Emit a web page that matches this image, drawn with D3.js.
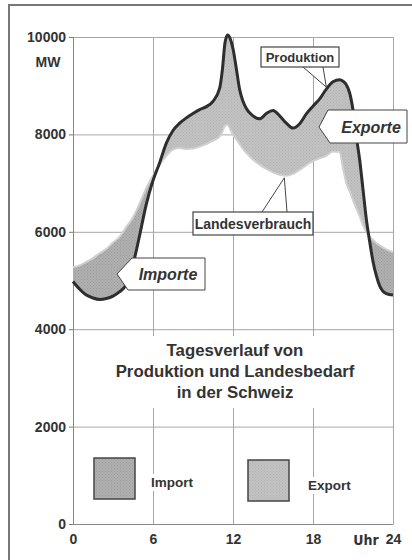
<!DOCTYPE html>
<html><head><meta charset="utf-8">
<script src="https://cdn.jsdelivr.net/npm/d3@7"></script>
<style>
html,body{margin:0;padding:0;background:#fff;}
svg{display:block;font-family:"Liberation Sans",Arial,Helvetica,sans-serif;}
</style></head><body>
<svg id="chart" width="412" height="560"></svg>
<script>
// Tagesverlauf (Stunde 0–24) in MW
const hours = [0,0.5,1,1.5,2,2.5,3,3.5,4,4.5,5,5.5,6,6.5,7,7.5,8,8.5,9,9.5,10,10.5,11,11.2,11.4,11.6,11.8,12,12.25,12.5,12.75,13,13.5,14,14.5,15,15.5,16,16.5,17,17.5,18,18.5,19,19.5,20,20.25,20.5,20.75,21,21.25,21.5,21.75,22,22.25,22.5,22.75,23,23.5,24];
const produktion = [4980,4820,4700,4640,4610,4630,4680,4770,4920,5330,5930,6570,7050,7420,7820,8080,8230,8340,8430,8510,8570,8680,8950,9320,9880,10040,9960,9760,9350,8920,8680,8530,8380,8320,8430,8490,8380,8230,8130,8220,8420,8580,8730,8930,9080,9120,9090,9020,8850,8500,7950,7480,6870,6260,5800,5390,5100,4890,4730,4700];
const landesverbrauch = [5270,5310,5380,5460,5560,5650,5780,5900,6100,6300,6580,6900,7150,7380,7560,7690,7720,7700,7710,7750,7800,7870,7960,8050,8180,8200,8100,8000,7900,7800,7700,7620,7480,7380,7290,7220,7170,7150,7190,7270,7370,7450,7510,7560,7650,7640,7300,7000,6830,6650,6480,6320,6130,6000,5900,5830,5770,5720,5640,5580];

const yTicks = [0,2000,4000,6000,8000,10000];
const xTicks = [0,6,12,18,24];
const xTickLabels = ["0","6","12","18","24"];
const titleLines = ["Tagesverlauf von","Produktion und Landesbedarf","in der Schweiz"];
const legendLabels = ["Import","Export"];

const data = hours.map((h,i)=>({h, p:produktion[i], c:landesverbrauch[i]}));

const svg = d3.select("#chart");
const x = d3.scaleLinear().domain([0,24]).range([73,393]);
const y = d3.scaleLinear().domain([0,10000]).range([524,37]);

const ink = "#333";
const gridCol = "#aaa6a6";

// Outer frame
svg.append("path").attr("d","M9,562 L9,5 L414,5").attr("fill","none")
  .attr("stroke","#777").attr("stroke-width",2);

// Stipple patterns for the two fills
const defs = svg.append("defs");
function stipple(id, base, dot){
  const p = defs.append("pattern").attr("id",id).attr("width",3).attr("height",3)
    .attr("patternUnits","userSpaceOnUse");
  p.append("rect").attr("width",3).attr("height",3).attr("fill",base);
  p.append("rect").attr("x",0).attr("y",0).attr("width",1).attr("height",1).attr("fill",dot);
  p.append("rect").attr("x",1.5).attr("y",1.5).attr("width",1).attr("height",1).attr("fill",dot);
}
stipple("patImport","#b0b0b0","#9c9c9c");
stipple("patExport","#c2c2c2","#b2b2b2");

// Grid
const gy = svg.append("g").attr("transform",`translate(${x(0)},0)`)
  .call(d3.axisLeft(y).tickValues(yTicks).tickSize(-(x(24)-x(0))).tickFormat(""));
gy.select(".domain").remove();
gy.selectAll(".tick line").attr("stroke",gridCol).attr("stroke-width",1);
const gx = svg.append("g").attr("transform",`translate(0,${y(0)})`)
  .call(d3.axisBottom(x).tickValues(xTicks).tickSize(-(y(0)-y(10000))).tickFormat(""));
gx.select(".domain").remove();
gx.selectAll(".tick line").attr("stroke",gridCol).attr("stroke-width",1);

// Y axis labels with short ticks
const ya = svg.append("g").attr("transform",`translate(${x(0)},0)`)
  .call(d3.axisLeft(y).tickValues(yTicks).tickSize(4).tickPadding(3).tickFormat(d3.format("d")));
ya.select(".domain").attr("stroke","#888");
ya.selectAll(".tick line").attr("stroke","#777");
ya.selectAll("text").attr("fill",ink).attr("font-size",14).attr("font-weight","bold")
  .attr("font-family","'Liberation Sans',Arial,sans-serif");
svg.append("text").attr("x",48).attr("y",y(10000)+30).attr("text-anchor","middle")
  .attr("fill",ink).attr("font-size",14).attr("font-weight","bold").text("MW");

// X axis labels
const xa = svg.append("g").attr("transform",`translate(0,${y(0)})`)
  .call(d3.axisBottom(x).tickValues(xTicks).tickSize(0).tickPadding(10)
    .tickFormat((d,i)=>xTickLabels[i]));
xa.select(".domain").attr("stroke","#888");
xa.selectAll("text").attr("fill",ink).attr("font-size",14).attr("font-weight","bold")
  .attr("font-family","'Liberation Sans',Arial,sans-serif");
svg.append("text").attr("x",x(24)-27).attr("y",y(0)+21).attr("text-anchor","middle")
  .attr("fill",ink).attr("font-size",14).attr("font-weight","bold")
  .attr("font-family","'Liberation Sans Narrow','DejaVu Sans Condensed',sans-serif").text("Uhr");

// Areas between production and consumption
const curve = d3.curveMonotoneX;
const between = d3.area().x(d=>x(d.h)).y0(d=>y(d.c)).y1(d=>y(d.p)).curve(curve);
const aboveC = d3.area().x(d=>x(d.h)).y0(d=>y(d.c)).y1(()=>y(10000)-20).curve(curve);
const belowC = d3.area().x(d=>x(d.h)).y0(d=>y(d.c)).y1(()=>y(0)).curve(curve);
defs.append("clipPath").attr("id","clipExport").append("path").attr("d",aboveC(data));
defs.append("clipPath").attr("id","clipImport").append("path").attr("d",belowC(data));

svg.append("path").attr("d",between(data)).attr("fill","url(#patExport)")
  .attr("clip-path","url(#clipExport)");
svg.append("path").attr("d",between(data)).attr("fill","url(#patImport)")
  .attr("clip-path","url(#clipImport)");

const lineC = d3.line().x(d=>x(d.h)).y(d=>y(d.c)).curve(curve);
const lineP = d3.line().x(d=>x(d.h)).y(d=>y(d.p)).curve(curve);
svg.append("path").attr("d",lineC(data)).attr("fill","none")
  .attr("stroke","#d0d0d0").attr("stroke-width",2);
svg.append("path").attr("d",lineP(data)).attr("fill","none")
  .attr("stroke","#2e2e2e").attr("stroke-width",3).attr("stroke-linejoin","round");

// Callouts
const boxStroke = "#444";
function findAt(h){ return data.find(d=>d.h===h); }

// Produktion
{
  const t = findAt(19);
  const tx = x(t.h), ty = y(t.p)-2;
  svg.append("path").attr("d",`M303,67 L${tx},${ty} L323,67`).attr("fill","#fff")
    .attr("stroke",boxStroke).attr("stroke-width",1);
  svg.append("rect").attr("x",261).attr("y",47).attr("width",78).attr("height",20)
    .attr("fill","#fff").attr("stroke",boxStroke).attr("stroke-width",1.2);
  svg.append("text").attr("x",300).attr("y",62).attr("text-anchor","middle")
    .attr("fill",ink).attr("font-size",13).attr("font-weight","bold").text("Produktion");
}
// Landesverbrauch
{
  const t = findAt(16);
  const tx = x(t.h)-2, ty = y(t.c)+2;
  svg.append("path").attr("d",`M262,212 L${tx},${ty} L287,212`).attr("fill","#fff")
    .attr("stroke",boxStroke).attr("stroke-width",1);
  svg.append("rect").attr("x",193).attr("y",212).attr("width",120).attr("height",23)
    .attr("fill","#fff").attr("stroke",boxStroke).attr("stroke-width",1.2);
  svg.append("text").attr("x",253).attr("y",229).attr("text-anchor","middle")
    .attr("fill",ink).attr("font-size",14).attr("font-weight","bold").text("Landesverbrauch");
}
// Exporte
svg.append("path").attr("d","M328,110 L407,110 L407,143 L330,143 L319,127 Z")
  .attr("fill","#fff").attr("stroke",boxStroke).attr("stroke-width",1);
svg.append("text").attr("x",371).attr("y",133).attr("text-anchor","middle")
  .attr("fill",ink).attr("font-size",16).attr("font-weight","bold").attr("font-style","italic").text("Exporte");
// Importe
svg.append("path").attr("d","M132,258 L205,258 L205,290 L128,290 L117,274 Z")
  .attr("fill","#fff").attr("stroke",boxStroke).attr("stroke-width",1);
svg.append("text").attr("x",168).attr("y",280).attr("text-anchor","middle")
  .attr("fill",ink).attr("font-size",16).attr("font-weight","bold").attr("font-style","italic").text("Importe");

// Title block
svg.append("rect").attr("x",106).attr("y",336).attr("width",258).attr("height",72).attr("fill","#fff");
svg.append("g").selectAll("text").data(titleLines).join("text")
  .attr("x",235).attr("y",(d,i)=>356+i*21).attr("text-anchor","middle")
  .attr("fill",ink).attr("font-size",16.8).attr("font-weight","bold").text(d=>d);

// Legend
const legend = [
  {label:legendLabels[0], fill:"url(#patImport)", bx:94, by:458, tx:151, ty:487},
  {label:legendLabels[1], fill:"url(#patExport)", bx:248, by:460, tx:308, ty:490}
];
legend.forEach(l=>{
  svg.append("rect").attr("x",l.bx).attr("y",l.by).attr("width",41).attr("height",41)
    .attr("fill",l.fill).attr("stroke","#444").attr("stroke-width",1.5);
  const t = svg.append("text").attr("x",l.tx).attr("y",l.ty)
    .attr("fill",ink).attr("font-size",13.5).attr("font-weight","bold").text(l.label);
  const b = t.node().getBBox();
  svg.insert("rect", () => t.node()).attr("x",b.x-2).attr("y",b.y-1).attr("width",b.width+4)
    .attr("height",b.height+2).attr("fill","#fff");
});
</script>
</body></html>
